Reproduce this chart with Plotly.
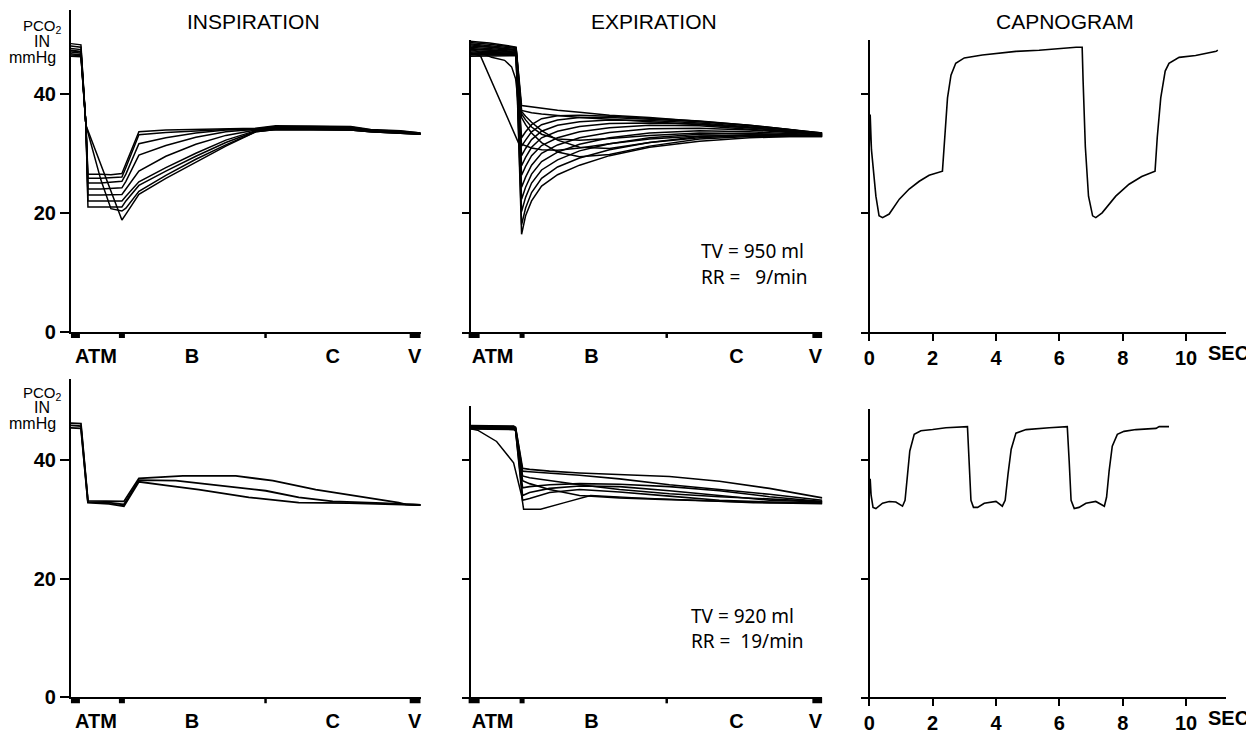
import plotly.graph_objects as go

# page body has an 8 px margin: figure is placed so that it lines up with the 1254x744 window
PAGE_W, PAGE_H, BODY = 1254, 744, 8
W, H = PAGE_W - BODY, PAGE_H - 2 * BODY

# ---------------- data (PCO2 in mmHg) ----------------
# Top-left: INSPIRATION profiles (TV 950 ml, RR 9/min); x = position along airway (ATM .. B .. C .. V)
insp1_x = [0, 10, 15, 17, 30, 40, 51, 55, 68, 95, 125, 155, 185, 205, 240, 280, 300, 330, 350]
insp1_curves = [
    [48.4, 48.2, 34.7, 26.5, 26.5, 26.4, 26.6, 28.3, 33.6, 33.9, 34.0, 34.1, 34.2, 34.6, 34.6, 34.5, 34.0, 33.8, 33.4],
    [48.0, 47.8, 34.7, 25.8, 25.8, 25.9, 26.0, 27.6, 33.1, 33.5, 33.8, 34.0, 34.1, 34.5, 34.5, 34.4, 33.9, 33.7, 33.4],
    [47.6, 47.4, 34.7, 25.0, 25.0, 25.1, 25.3, 26.5, 31.6, 32.6, 33.4, 33.9, 34.0, 34.4, 34.4, 34.3, 33.8, 33.6, 33.3],
    [47.3, 47.1, 34.7, 24.0, 24.0, 24.1, 24.2, 25.3, 29.7, 31.3, 32.7, 33.6, 34.0, 34.3, 34.3, 34.2, 33.8, 33.6, 33.3],
    [47.0, 46.8, 34.7, 23.0, 23.0, 23.0, 23.1, 24.0, 27.0, 29.5, 31.5, 33.0, 33.9, 34.2, 34.2, 34.1, 33.7, 33.5, 33.3],
    [46.7, 46.5, 34.7, 22.0, 22.0, 22.0, 22.0, 22.8, 25.2, 27.6, 30.0, 32.2, 33.8, 34.1, 34.1, 34.0, 33.7, 33.5, 33.2],
    [46.5, 46.4, 34.7, 21.0, 21.0, 21.0, 21.0, 22.0, 24.6, 27.0, 29.5, 31.8, 33.7, 34.0, 34.0, 33.9, 33.6, 33.4, 33.2],
    [46.3, 46.2, 34.7, 33.5, 25.5, 20.7, 20.3, 20.8, 23.6, 26.3, 29.0, 31.4, 33.6, 34.0, 34.0, 33.9, 33.6, 33.4, 33.2],
    [47.2, 47.0, 34.7, 33.8, 28.1, 23.7, 18.8, 19.8, 23.1, 25.8, 28.5, 31.2, 33.6, 34.0, 34.0, 33.9, 33.6, 33.4, 33.2],
]

# Top-middle: EXPIRATION profiles (TV 950 ml, RR 9/min)
exp1_x = [0, 20, 44, 46.5, 52, 56, 62, 72, 88, 110, 140, 180, 230, 280, 320, 353]
exp1_curves = [
    [48.8, 48.5, 47.9, 47.8, 38.0, 37.9, 37.8, 37.6, 37.2, 36.9, 36.4, 36.0, 35.4, 34.7, 34.0, 33.2],
    [48.6, 48.3, 47.8, 47.7, 37.2, 37.0, 36.8, 36.6, 36.3, 36.0, 35.7, 35.3, 34.9, 34.3, 33.7, 33.1],
    [48.4, 48.1, 47.7, 47.6, 37.0, 36.2, 35.2, 33.8, 32.2, 31.0, 30.8, 31.8, 32.8, 33.1, 33.0, 32.9],
    [48.2, 47.9, 47.5, 47.4, 36.0, 34.8, 33.4, 31.8, 30.2, 29.4, 29.8, 31.2, 32.4, 32.8, 32.8, 32.8],
    [48.0, 47.8, 47.4, 47.3, 32.6, 33.6, 34.8, 35.8, 36.3, 36.4, 36.2, 35.9, 35.4, 34.7, 34.0, 33.4],
    [47.8, 47.6, 47.3, 47.2, 31.2, 32.2, 33.6, 34.8, 35.6, 36.0, 36.0, 35.7, 35.3, 34.6, 33.9, 33.4],
    [47.6, 47.4, 47.2, 47.1, 29.6, 30.8, 32.3, 33.7, 34.7, 35.3, 35.6, 35.5, 35.1, 34.5, 33.9, 33.3],
    [47.4, 47.3, 47.0, 47.0, 27.9, 29.3, 31.0, 32.6, 33.7, 34.5, 35.0, 35.1, 34.9, 34.3, 33.8, 33.3],
    [47.2, 47.1, 46.9, 46.9, 26.3, 27.8, 29.6, 31.3, 32.6, 33.6, 34.3, 34.7, 34.6, 34.1, 33.6, 33.2],
    [47.0, 46.9, 46.8, 46.8, 24.3, 26.0, 28.0, 30.0, 31.4, 32.6, 33.5, 34.1, 34.2, 33.9, 33.5, 33.2],
    [46.8, 46.8, 46.7, 46.7, 22.3, 24.3, 26.5, 28.6, 30.2, 31.5, 32.6, 33.4, 33.8, 33.6, 33.3, 33.1],
    [46.6, 46.6, 46.6, 46.6, 20.2, 22.6, 25.0, 27.2, 28.9, 30.4, 31.6, 32.6, 33.2, 33.3, 33.1, 33.0],
    [46.5, 46.5, 46.5, 46.5, 18.0, 20.8, 23.4, 25.8, 27.7, 29.2, 30.6, 31.8, 32.6, 33.0, 33.0, 32.9],
    [46.3, 46.3, 46.3, 46.4, 16.4, 19.5, 22.0, 24.5, 26.4, 28.0, 29.6, 31.0, 32.0, 32.6, 32.8, 32.8],
]
exp1_early_a_x = [0, 11, 49, 56, 62, 72, 88, 110, 140, 180, 230, 280, 353]
exp1_early_a_y = [46.9, 46.3, 31.7, 31.2, 30.9, 30.6, 30.5, 30.9, 31.6, 32.4, 32.9, 33.0, 32.9]
exp1_early_b_x = [0, 22, 35, 42, 46, 49, 52, 56, 62, 72, 88, 110, 140, 180, 230, 280, 353]
exp1_early_b_y = [47.6, 46.1, 45.6, 44.5, 42.5, 38.0, 36.6, 35.6, 34.4, 33.2, 32.4, 32.2, 32.5, 33.0, 33.4, 33.3, 33.0]

# Top-right: CAPNOGRAM (TV 950 ml, RR 9/min); time in s
cap1_t = [0.0, 0.03, 0.07, 0.21, 0.31, 0.42, 0.63, 0.95, 1.26, 1.58, 1.89, 2.2, 2.31, 2.4, 2.47, 2.58,
          2.73, 3.0, 3.57, 4.63, 5.36, 6.53, 6.72, 6.75, 6.82, 6.92, 7.05, 7.15, 7.35, 7.78, 8.2, 8.6,
          8.94, 9.02, 9.09, 9.2, 9.34, 9.46, 9.78, 10.3, 10.95, 11.0]
cap1_v = [31.0, 36.5, 30.6, 22.8, 19.5, 19.2, 19.8, 22.3, 24.0, 25.3, 26.3, 26.8, 27.0, 33.9, 39.3, 43.1,
          45.1, 46.0, 46.5, 47.1, 47.3, 47.8, 47.8, 42.1, 31.1, 22.8, 19.5, 19.2, 20.0, 22.8, 24.8, 26.1,
          26.8, 27.0, 32.7, 39.3, 43.8, 45.1, 46.1, 46.4, 47.1, 47.3]

# Bottom-left: INSPIRATION profiles (TV 920 ml, RR 19/min)
insp2_curves_x = [
    [0, 10, 17, 38, 53, 68, 112, 165, 202, 245, 295, 328, 335, 350],
    [0, 10, 17, 38, 53, 68, 105, 145, 195, 228, 262, 312, 335, 350],
    [0, 10, 17, 38, 53, 68, 95, 128, 178, 228, 278, 310, 335, 350],
]
insp2_curves_y = [
    [46.2, 46.1, 33.1, 33.0, 33.0, 36.9, 37.3, 37.3, 36.5, 35.0, 33.7, 32.8, 32.5, 32.4],
    [45.8, 45.7, 32.9, 32.8, 32.5, 36.6, 36.5, 35.8, 34.8, 33.7, 33.0, 32.7, 32.5, 32.4],
    [45.4, 45.3, 32.8, 32.6, 32.2, 36.3, 35.7, 35.0, 33.7, 32.8, 32.7, 32.6, 32.5, 32.4],
]

# Bottom-middle: EXPIRATION profiles (TV 920 ml, RR 19/min)
exp2_x = [0, 20, 44, 46, 53, 60, 80, 110, 150, 200, 250, 300, 353]
exp2_curves = [
    [45.8, 45.8, 45.7, 45.5, 38.6, 38.4, 38.1, 37.8, 37.5, 37.2, 36.4, 35.2, 33.6],
    [45.7, 45.7, 45.6, 45.4, 38.1, 38.0, 37.8, 37.4, 36.8, 35.8, 35.0, 34.2, 33.2],
    [45.6, 45.6, 45.5, 45.3, 37.3, 37.0, 36.5, 35.8, 35.0, 34.3, 33.8, 33.4, 33.0],
    [45.5, 45.5, 45.4, 45.2, 36.5, 36.0, 35.0, 34.0, 33.6, 33.3, 33.0, 32.8, 32.8],
    [45.4, 45.4, 45.3, 45.1, 35.3, 35.5, 35.8, 36.0, 35.9, 35.5, 34.8, 33.8, 33.0],
    [45.3, 45.3, 45.2, 45.0, 34.0, 34.5, 35.2, 35.6, 35.5, 34.8, 34.0, 33.2, 32.9],
    [45.2, 45.2, 45.1, 44.9, 33.2, 33.5, 34.5, 35.0, 34.6, 33.9, 33.2, 32.9, 32.7],
]
exp2_early_x = [0, 8, 27, 44, 52, 54, 60, 71, 95, 121, 167, 227, 284, 353]
exp2_early_y = [45.3, 45.0, 43.1, 39.5, 34.0, 31.7, 31.7, 31.7, 32.8, 34.0, 33.6, 33.2, 32.8, 32.6]

# Bottom-right: CAPNOGRAM (TV 920 ml, RR 19/min)
cap2_t = [0.0, 0.03, 0.06, 0.12, 0.21, 0.42, 0.63, 0.84, 1.05, 1.13, 1.21, 1.28, 1.42, 1.63, 2.0, 2.42,
          3.1, 3.15, 3.21, 3.29, 3.42, 3.63, 4.0, 4.2, 4.29, 4.38, 4.48, 4.63, 4.95, 5.68, 6.25, 6.31,
          6.37, 6.47, 6.62, 6.84, 7.15, 7.42, 7.49, 7.57, 7.67, 7.83, 8.04, 8.42, 9.05, 9.15, 9.46]
cap2_v = [34.0, 36.8, 34.0, 32.0, 31.8, 32.7, 33.0, 32.9, 32.2, 33.2, 37.6, 41.5, 44.3, 44.9, 45.1, 45.4,
          45.6, 39.8, 33.2, 32.0, 32.0, 32.7, 33.0, 32.2, 33.2, 37.6, 41.8, 44.5, 45.1, 45.4, 45.6, 39.8,
          33.2, 31.8, 32.0, 32.7, 33.0, 32.2, 33.7, 38.1, 42.3, 44.3, 44.8, 45.1, 45.3, 45.6, 45.6]

panel_titles = ["INSPIRATION", "EXPIRATION", "CAPNOGRAM"]
airway_labels = ["ATM", "B", "C", "V"]
time_ticks = [0, 2, 4, 6, 8, 10]
time_labels = ["0", "2", "4", "6", "8", "10"]
y_ticks = [0, 20, 40]
settings_top = ["TV = 950 ml", "RR =\u00a0\u00a0\u00a09/min"]
settings_bottom = ["TV = 920 ml", "RR =\u00a0\u00a019/min"]

# ---------------- geometry (window pixels) ----------------
ROW_BOTTOM = [337, 708]
ROW_SCALE = [6.05, 6.03]          # px per mmHg
ROW_TOPS = [[10, 40, 40], [385, 412, 415]]
COL_PX = [(71, 421), (462, 823), (862, 1227)]
COL_XRANGE = [(0, 350), (-8, 353), (-0.25, 11.26)]
LABEL_POS = [[25, 121, 262, 344], [23, 122, 267, 346]]


def px_x(px):
    return (px - BODY) / W


def px_y(py):
    return 1 - (py - BODY) / H


BOLD = dict(family="Liberation Sans, Arial, sans-serif", size=20, color="black", weight="bold")
REG = "Liberation Sans, Arial, sans-serif"

fig = go.Figure()


def ax_id(row, col):
    n = row * 3 + col + 1
    return ("x" if n == 1 else f"x{n}"), ("y" if n == 1 else f"y{n}")


def add_line(row, col, x, y, width=1.5):
    xa, ya = ax_id(row, col)
    fig.add_trace(go.Scatter(x=x, y=y, mode="lines", xaxis=xa, yaxis=ya,
                             line=dict(color="black", width=width),
                             showlegend=False, hoverinfo="skip"))


for c in insp1_curves:
    add_line(0, 0, insp1_x, c, 1.5)
for c in exp1_curves:
    add_line(0, 1, exp1_x, c)
add_line(0, 1, exp1_early_a_x, exp1_early_a_y)
add_line(0, 1, exp1_early_b_x, exp1_early_b_y)
add_line(0, 2, cap1_t, cap1_v, 1.6)
for xs, ys in zip(insp2_curves_x, insp2_curves_y):
    add_line(1, 0, xs, ys, 1.8)
for c in exp2_curves:
    add_line(1, 1, exp2_x, c, 1.6)
add_line(1, 1, exp2_early_x, exp2_early_y)
add_line(1, 2, cap2_t, cap2_v, 1.6)

layout = dict(width=W, height=H, margin=dict(l=0, r=0, t=0, b=0),
              paper_bgcolor="white", plot_bgcolor="rgba(0,0,0,0)", showlegend=False)
shapes = []
annotations = []

for row in range(2):
    bottom = ROW_BOTTOM[row]
    for col in range(3):
        n = row * 3 + col + 1
        top = ROW_TOPS[row][col]
        xk = "xaxis" if n == 1 else f"xaxis{n}"
        yk = "yaxis" if n == 1 else f"yaxis{n}"
        xa, ya = ax_id(row, col)
        px0, px1 = COL_PX[col]
        ymax = (bottom - top) / ROW_SCALE[row]
        xaxis = dict(domain=[px_x(px0), px_x(px1)], range=list(COL_XRANGE[col]), anchor=ya,
                     showgrid=False, showline=True, linecolor="black", linewidth=2,
                     tickfont=BOLD, fixedrange=True)
        yaxis = dict(domain=[px_y(bottom), px_y(top)], range=[0, ymax], anchor=xa,
                     showgrid=False, zeroline=False, tickmode="array", tickvals=y_ticks,
                     tickcolor="black", tickwidth=2, fixedrange=True)
        if col == 0:
            yaxis.update(showline=True, linecolor="black", linewidth=2, ticks="outside",
                         ticklen=9, tickfont=BOLD, showticklabels=True)
            xaxis.update(zeroline=False)
        else:
            yaxis.update(showline=False, ticks="inside", ticklen=8, showticklabels=False)
            xaxis.update(zeroline=True, zerolinecolor="black", zerolinewidth=2)
        if col < 2:
            xaxis.update(tickmode="array", tickvals=LABEL_POS[col], ticktext=airway_labels,
                         ticks="outside", ticklen=5, tickcolor="rgba(0,0,0,0)")
            if col == 0:
                marks = [(-1, 9), (48, 54), (193.5, 196), (339, 350)]
            else:
                marks = [(-1, 10), (50, 55), (196, 198.5), (343, 353)]
            for (a, b) in marks:
                shapes.append(dict(type="rect", xref=xa, yref="paper", x0=a, x1=b,
                                   y0=px_y(bottom + 6), y1=px_y(bottom),
                                   fillcolor="black", line=dict(width=0), layer="above"))
        else:
            xaxis.update(tickmode="array", tickvals=time_ticks, ticktext=time_labels,
                         ticks="outside", ticklen=7, tickwidth=2, tickcolor="black")
        layout[xk] = xaxis
        layout[yk] = yaxis

# titles
for title, cx in zip(panel_titles, [254, 655, 1066]):
    annotations.append(dict(text=title, x=px_x(cx), y=px_y(22), xref="paper", yref="paper",
                            showarrow=False, xanchor="center", yanchor="middle",
                            font=dict(family=REG, size=21, color="black")))

# y-axis unit labels
for base in [0, 372]:
    for txt, cx, cy, fs in [("PCO<sub>2</sub>", 43, 27, 15), ("IN", 42, 42, 16), ("mmHg", 33, 58, 16)]:
        annotations.append(dict(text=txt, x=px_x(cx), y=px_y(cy + base), xref="paper", yref="paper",
                                showarrow=False, xanchor="center", yanchor="middle",
                                font=dict(family=REG, size=fs, color="black")))

# SEC labels next to the 10 s tick
for cy in [358, 729]:
    annotations.append(dict(text="<b>SEC</b>", x=px_x(1207), y=px_y(cy), xref="paper", yref="paper",
                            showarrow=False, xanchor="left", yanchor="middle",
                            font=dict(family=REG, size=20, color="black")))

# ventilator settings
for lines, x0, ys in [(settings_top, 700, [255, 281]), (settings_bottom, 690, [625, 651])]:
    for txt, cy in zip(lines, ys):
        annotations.append(dict(text=txt, x=px_x(x0), y=px_y(cy), xref="paper", yref="paper",
                                showarrow=False, xanchor="left", yanchor="middle",
                                font=dict(family="Noto Sans, sans-serif", size=19, color="black")))

layout["shapes"] = shapes
layout["annotations"] = annotations
fig.update_layout(**layout)
fig.write_html("out.html")
